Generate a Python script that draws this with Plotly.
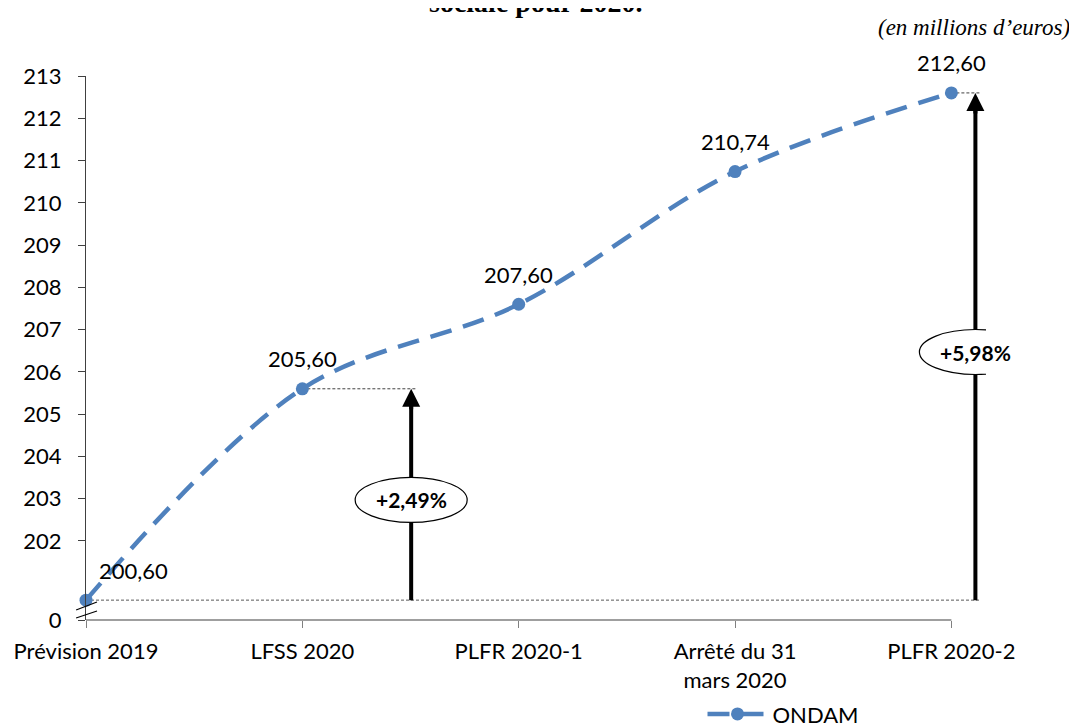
import plotly.graph_objects as go

categories = ["Prévision 2019", "LFSS 2020", "PLFR 2020-1", "Arrêté du 31<br>mars 2020", "PLFR 2020-2"]
ondam = [200.60, 205.60, 207.60, 210.74, 212.60]
labels = ["200,60", "205,60", "207,60", "210,74", "212,60"]
ytick_vals = [200.13] + list(range(202, 214))
ytick_text = ["0"] + [str(v) for v in range(202, 214)]
growth_labels = ["+2,49%", "+5,98%"]

BLUE = "#4F81BD"
FONT = "Lato"
FS = 22
xs = list(range(len(categories)))

fig = go.Figure()
fig.add_trace(go.Scatter(
    x=xs, y=ondam, mode="lines+markers", name="ONDAM",
    line=dict(color=BLUE, width=4.5, dash="22px,12px", shape="spline"),
    marker=dict(color=BLUE, size=13),
    cliponaxis=False,
))

ann = []
for i, (v, t) in enumerate(zip(ondam, labels)):
    ann.append(dict(x=xs[i], y=v, text=t, showarrow=False, xref="x", yref="y",
                    yshift=30, xshift=47 if i == 0 else 0,
                    font=dict(family=FONT, size=FS, color="#000")))

shapes = []
base = ondam[0]
shapes.append(dict(type="line", xref="x", yref="y", x0=0, x1=4.13, y0=base, y1=base,
                   line=dict(color="#595959", width=1, dash="3px,2px"), layer="below"))
shapes.append(dict(type="line", xref="x", yref="y", x0=1, x1=1.53, y0=ondam[1], y1=ondam[1],
                   line=dict(color="#404040", width=1, dash="3px,2px"), layer="below"))
shapes.append(dict(type="line", xref="x", yref="y", x0=4, x1=4.13, y0=ondam[4], y1=ondam[4],
                   line=dict(color="#404040", width=1, dash="3px,2px"), layer="below"))
shapes.append(dict(type="line", xref="x", yref="y domain", x0=0, x1=4, y0=0, y1=0,
                   line=dict(color="#404040", width=1.2)))

arrows = [(1.503, ondam[1], 202.97, growth_labels[0]), (4.111, ondam[4], 206.47, growth_labels[1])]
for ax_x, top, mid, txt in arrows:
    shapes.append(dict(type="line", xref="x", yref="y", x0=ax_x, x1=ax_x, y0=base, y1=top - 0.3,
                       line=dict(color="#000", width=4)))
    shapes.append(dict(type="circle", xref="x", yref="y", xsizemode="pixel", ysizemode="pixel",
                       xanchor=ax_x, yanchor=mid, x0=-56, x1=56, y0=-22.5, y1=22.5,
                       fillcolor="white", line=dict(color="#000", width=1.2)))
    ann.append(dict(x=ax_x, y=mid, text=f"<b>{txt}</b>", showarrow=False, xref="x", yref="y",
                    font=dict(family=FONT, size=21, color="#000")))
    ann.append(dict(x=ax_x, y=top, xref="x", yref="y", text="", showarrow=True,
                    ax=0, ay=22, arrowhead=2, arrowsize=0.9, arrowwidth=4, arrowcolor="#000",
                    standoff=0))

shapes.append(dict(type="line", xref="paper", yref="paper", x0=-0.011, x1=0.0122, y0=0.0184, y1=0.0331,
                   line=dict(color="#000", width=1.2)))
shapes.append(dict(type="line", xref="paper", yref="paper", x0=-0.011, x1=0.0122, y0=0.0037, y1=0.0165,
                   line=dict(color="#000", width=1.2)))

ann.append(dict(x=(535 - 86) / 900, y=1.103, xref="paper", yref="paper", showarrow=False,
                xanchor="center", yanchor="bottom",
                text="<b>sociale pour 2020.</b>", font=dict(family="Liberation Serif", size=28, color="#000")))
ann.append(dict(x=1.0956, y=1.090, xref="paper", yref="paper", showarrow=False,
                xanchor="right", yanchor="middle",
                text="<i>(en millions d’euros)</i>", font=dict(family="Liberation Serif", size=23, color="#000")))

fig.update_layout(
    width=1077, height=726,
    margin=dict(l=78, r=99, t=68, b=114, autoexpand=False),
    plot_bgcolor="white", paper_bgcolor="white",
    font=dict(family=FONT, size=FS, color="#000"),
    xaxis=dict(range=[0, 4.16], tickmode="array", tickvals=xs, ticktext=categories,
               ticks="outside", ticklen=7, tickcolor="#808080", showgrid=False, zeroline=False,
               showline=False, automargin=False, ticklabelstandoff=5,
               tickfont=dict(family=FONT, size=FS)),
    yaxis=dict(range=[200.13, 213], tickmode="array", tickvals=ytick_vals, ticktext=ytick_text,
               ticks="outside", ticklen=7, tickcolor="#404040", showgrid=False, zeroline=False,
               showline=True, linecolor="#404040", linewidth=1.2, automargin=False,
               ticklabelstandoff=12, tickfont=dict(family=FONT, size=FS)),
    showlegend=True,
    legend=dict(orientation="h", x=0.685, y=-0.173, xanchor="left", yanchor="middle",
                itemwidth=60, font=dict(family=FONT, size=FS)),
    annotations=ann, shapes=shapes,
)

fig.write_html("out.html")
